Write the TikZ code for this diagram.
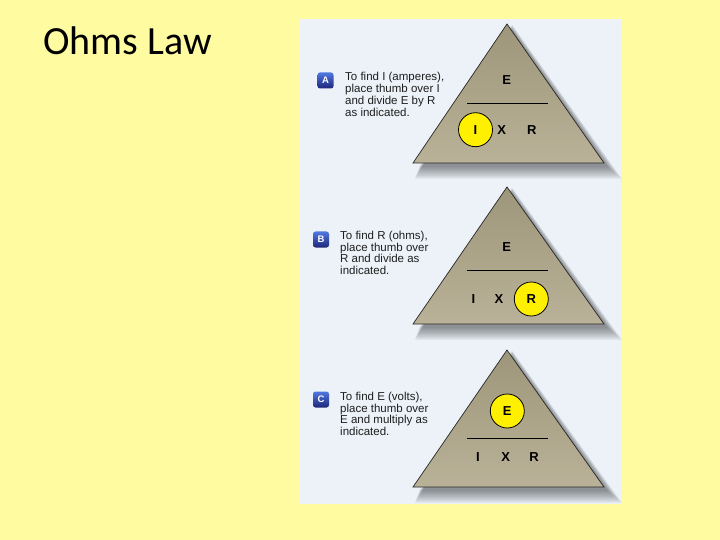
\documentclass[tikz,border=0pt]{standalone}
\usepackage{fontspec}
\setmainfont{Liberation Sans}
\newfontfamily\titlefont{Carlito}
\definecolor{bgyellow}{RGB}{255,251,160}
\definecolor{panel}{RGB}{236,242,248}
\definecolor{tritop}{RGB}{158,150,122}
\definecolor{tribot}{RGB}{186,178,152}
\definecolor{thumb}{RGB}{255,240,0}
\definecolor{badgetop}{RGB}{80,120,225}
\definecolor{badgebot}{RGB}{30,38,120}
\definecolor{desctext}{RGB}{30,30,30}
\tikzset{
  lett/.style={font=\bfseries\fontsize{13}{13}\selectfont, inner sep=0pt, text=black},
  thumbc/.style={circle, draw=black, line width=0.8pt, fill=thumb, minimum size=34pt, inner sep=0pt, font=\bfseries\fontsize{13}{13}\selectfont},
  badge/.style={rounded corners=2.5pt, minimum size=16pt, inner sep=0pt, top color=badgetop, bottom color=badgebot, text=white, font=\bfseries\fontsize{9.5}{9.5}\selectfont},
  desc/.style={anchor=base west, inner sep=0pt, text=desctext, font=\fontsize{11.5}{11}\selectfont},
  divider/.style={line width=0.8pt, black},
  triedge/.style={draw=black!85, line width=0.7pt, top color=tritop, bottom color=tribot},
}
\newcommand\trishadow[3]{% apex x, apex y, base y
  \foreach \i in {0,...,11}{
    \fill[black, opacity=0.04] (#1+5, #2+6-0.5*\i) -- (#1-94+6-0.4*\i, #3+4+1.1*\i) -- (#1+97+4+1.3*\i, #3+4+1.1*\i) -- cycle;
  }
}
\begin{document}
\begin{tikzpicture}[x=1pt, y=-1pt]
  \useasboundingbox (0,0) rectangle (720,540);
  \fill[bgyellow] (0,0) rectangle (720,540);
  % title
  \node[anchor=base west, inner sep=0pt, font=\titlefont\fontsize{40}{42}\selectfont] (title) at (43,55) {Ohms Law};
  % panel
  \fill[panel] (300,19) rectangle (622,504);
  \begin{scope}
    \clip (300,19) rectangle (622,504);
    \trishadow{507}{24}{163}
    \trishadow{507}{187}{324}
    \trishadow{507}{350}{487}
  \end{scope}

  % ---------- A ----------
  \path[triedge] (507,24) coordinate (Aapex) -- (413,163) coordinate (Aleft) -- (604,163) coordinate (Aright) -- cycle;
  \draw[divider] (467,103.3) coordinate (Ad1) -- (548.3,103.3) coordinate (Ad2);
  \node[lett] (AE) at (506.7,80) {E};
  \node[thumbc] (AI) at (475.5,129.7) {I};
  \node[lett] (AX) at (501.7,129.7) {X};
  \node[lett] (AR) at (531.7,129.7) {R};
  \node[badge] (bA) at (325.5,80.5) {A};
  \node[desc] (tA1) at (345,81) {To find I (amperes),};
  \node[desc] (tA2) at (345,92.7) {place thumb over I};
  \node[desc] (tA3) at (345,104.4) {and divide E by R};
  \node[desc] (tA4) at (345,116.1) {as indicated.};

  % ---------- B ----------
  \path[triedge] (507,187) coordinate (Bapex) -- (413,324) coordinate (Bleft) -- (604,324) coordinate (Bright) -- cycle;
  \draw[divider] (467,270.7) coordinate (Bd1) -- (548.3,270.7) coordinate (Bd2);
  \node[lett] (BE) at (506.7,246.7) {E};
  \node[lett] (BI) at (473.3,299) {I};
  \node[lett] (BX) at (499,299) {X};
  \node[thumbc] (BR) at (531.3,299) {R};
  \node[badge] (bB) at (321,239.5) {B};
  \node[desc] (tB1) at (340,239.5) {To find R (ohms),};
  \node[desc] (tB2) at (340,251.2) {place thumb over};
  \node[desc] (tB3) at (340,262.9) {R and divide as};
  \node[desc] (tB4) at (340,274.6) {indicated.};

  % ---------- C ----------
  \path[triedge] (507,350) coordinate (Capex) -- (413,487) coordinate (Cleft) -- (604,487) coordinate (Cright) -- cycle;
  \draw[divider] (467,438.3) coordinate (Cd1) -- (548.3,438.3) coordinate (Cd2);
  \node[thumbc] (CE) at (507.3,411) {E};
  \node[lett] (CI) at (478,456.7) {I};
  \node[lett] (CX) at (505.7,456.7) {X};
  \node[lett] (CR) at (534,456.7) {R};
  \node[badge] (bC) at (321,399.5) {C};
  \node[desc] (tC1) at (340,400.5) {To find E (volts),};
  \node[desc] (tC2) at (340,412.2) {place thumb over};
  \node[desc] (tC3) at (340,423.9) {E and multiply as};
  \node[desc] (tC4) at (340,435.6) {indicated.};
\end{tikzpicture}
\end{document}
